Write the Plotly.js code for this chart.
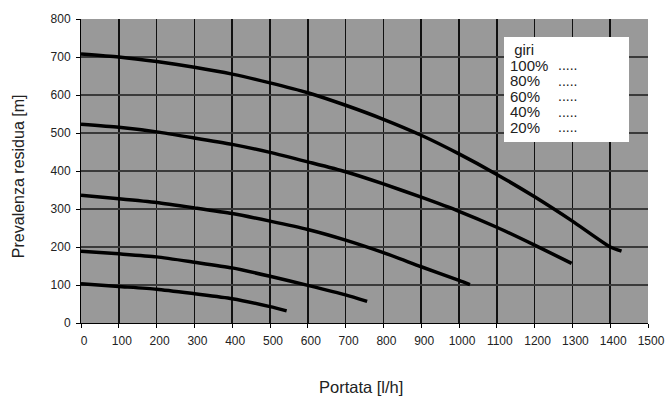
<!DOCTYPE html>
<html>
<head>
<meta charset="utf-8">
<script src="https://cdn.plot.ly/plotly-3.0.1.min.js"></script>
<style>html,body{margin:0;padding:0;background:#fff;}#chart{width:670px;height:397px;}</style>
</head>
<body>
<div id="chart"></div>
<script>
// Data
const seriesNames = ['100%', '80%', '60%', '40%', '20%'];
const x100 = [0, 100, 200, 300, 400, 500, 600, 700, 800, 900, 1000, 1100, 1200, 1300, 1400, 1430];
const y100 = [708, 700, 688, 673, 655, 632, 606, 573, 536, 494, 445, 391, 332, 268, 200, 189];
const x80 = [0, 100, 200, 300, 400, 500, 600, 700, 800, 900, 1000, 1100, 1200, 1298];
const y80 = [523, 515, 503, 487, 470, 449, 424, 398, 366, 331, 294, 252, 205, 157];
const x60 = [0, 100, 200, 300, 400, 500, 600, 700, 800, 900, 1000, 1029];
const y60 = [336, 327, 317, 303, 288, 268, 246, 218, 185, 148, 112, 101];
const x40 = [0, 100, 200, 300, 400, 500, 600, 700, 757];
const y40 = [189, 182, 174, 160, 145, 123, 99, 74, 57];
const x20 = [0, 100, 200, 300, 400, 500, 544];
const y20 = [103, 96, 89, 77, 64, 43, 32];
const legendTitle = 'giri';
const legendDots = '.....';
const xTitle = 'Portata [l/h]';
const yTitle = 'Prevalenza residua [m]';
const xTicks = [0,100,200,300,400,500,600,700,800,900,1000,1100,1200,1300,1400,1500];
const yTicks = [0,100,200,300,400,500,600,700,800];

const xs = [x100, x80, x60, x40, x20];
const ys = [y100, y80, y60, y40, y20];
const traces = xs.map((xv, i) => ({
  x: xv, y: ys[i], name: seriesNames[i], type: 'scatter', mode: 'lines',
  line: {color: '#000', width: 3.5, shape: 'spline', smoothing: 0.6},
  showlegend: false, hoverinfo: 'skip'
}));

const font = {family: 'Liberation Sans, Arial, sans-serif', color: '#222'};
const PX = v => (v - 81) / 567;          // pixel x -> paper
const PY = v => (322.7 - v) / 303.7;     // pixel y -> paper
const big = s => '<span style="font-size:15px">' + s + '</span>';
const annotations = [];
// legend: names column (line spacing = 1.3 * 12px = 15.6px)
const nameLines = ['&nbsp;' + legendTitle].concat(seriesNames).map(big).join('<br>');
annotations.push({xref: 'paper', yref: 'paper', x: PX(508), y: PY(88.3), text: nameLines,
  showarrow: false, align: 'left', xanchor: 'left', yanchor: 'middle', font: Object.assign({size: 12}, font)});
const dotLines = seriesNames.map(() => '<span style="font-size:14px">' + legendDots + '</span>').join('<br>');
annotations.push({xref: 'paper', yref: 'paper', x: PX(556), y: PY(96), text: dotLines,
  showarrow: false, align: 'left', xanchor: 'left', yanchor: 'middle', font: Object.assign({size: 12}, font)});
annotations.push({xref: 'paper', yref: 'paper', x: PX(361), y: PY(387), text: xTitle,
  showarrow: false, xanchor: 'center', yanchor: 'middle', font: Object.assign({size: 16.5}, font)});
annotations.push({xref: 'paper', yref: 'paper', x: PX(18), y: PY(176), text: yTitle,
  showarrow: false, textangle: -90, xanchor: 'center', yanchor: 'middle', font: Object.assign({size: 16}, font)});

const layout = {
  width: 670, height: 397,
  margin: {l: 81, r: 22, t: 19, b: 74.3},
  paper_bgcolor: '#ffffff', plot_bgcolor: '#999999',
  font: Object.assign({size: 12}, font),
  showlegend: false,
  xaxis: {range: [0, 1500], tickvals: xTicks, ticktext: xTicks.map(String), showgrid: true, gridcolor: '#111', gridwidth: 1.5,
    zeroline: false, showline: true, linecolor: '#000', linewidth: 1, ticks: 'outside', ticklen: 4, tickcolor: '#000',
    tickfont: Object.assign({size: 12}, font), ticklabelstandoff: 3, ticklabelshift: 3, fixedrange: true},
  yaxis: {range: [0, 800], tickvals: yTicks, ticktext: yTicks.map(String), showgrid: true, gridcolor: '#3a3a3a', gridwidth: 1.5,
    zeroline: false, showline: true, linecolor: '#000', linewidth: 1, ticks: 'outside', ticklen: 4, tickcolor: '#000',
    tickfont: Object.assign({size: 12}, font), ticklabelstandoff: 3, fixedrange: true},
  shapes: [
    {type: 'rect', xref: 'paper', yref: 'paper', layer: 'above',
     x0: PX(504), x1: PX(629), y0: PY(142), y1: PY(37),
     fillcolor: '#ffffff', line: {width: 0}}
  ],
  annotations: annotations
};

Plotly.newPlot('chart', traces, layout, {displayModeBar: false, staticPlot: true});
</script>
</body>
</html>
